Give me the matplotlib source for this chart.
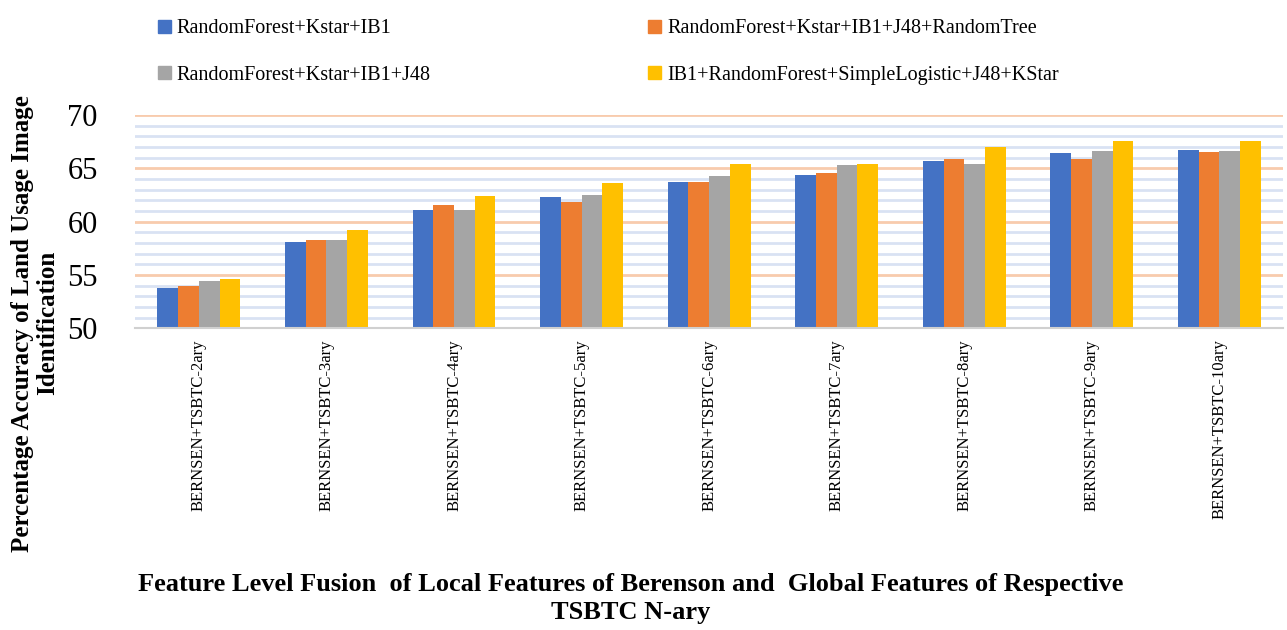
import numpy as np
import matplotlib
matplotlib.use('agg')
from matplotlib import pyplot as plt
from matplotlib.patches import Patch
from matplotlib.ticker import MultipleLocator

plt.rcParams['font.family'] = ['Liberation Serif', 'DejaVu Serif']

categories = ['BERNSEN+TSBTC-%dary' % n for n in range(2, 11)]

series_names = ['RandomForest+Kstar+IB1',
                'RandomForest+Kstar+IB1+J48+RandomTree',
                'RandomForest+Kstar+IB1+J48',
                'IB1+RandomForest+SimpleLogistic+J48+KStar']

rf_kstar_ib1 = [53.8, 58.1, 61.1, 62.3, 63.7, 64.4, 65.7, 66.4, 66.7]
rf_kstar_ib1_j48_rt = [54.0, 58.3, 61.6, 61.8, 63.7, 64.6, 65.9, 65.9, 66.5]
rf_kstar_ib1_j48 = [54.4, 58.3, 61.1, 62.5, 64.3, 65.3, 65.4, 66.6, 66.6]
ib1_rf_sl_j48_kstar = [54.6, 59.2, 62.4, 63.6, 65.4, 65.4, 67.0, 67.6, 67.6]

colors = ['#4472C4', '#ED7D31', '#A5A5A5', '#FFC000']

fig = plt.figure(figsize=(12.87, 6.3), dpi=100)
ax = fig.add_axes([0.105, 0.479, 0.892, 0.3385])

x = np.arange(len(categories))
w = 0.1625
all_series = [rf_kstar_ib1, rf_kstar_ib1_j48_rt, rf_kstar_ib1_j48, ib1_rf_sl_j48_kstar]
for i, vals in enumerate(all_series):
    ax.bar(x + (i - 1.5) * w, np.array(vals) - 50, width=w, bottom=50,
           color=colors[i], zorder=3)

ax.set_xlim(-0.5, len(categories) - 0.5)
ax.set_ylim(50, 70)
ax.yaxis.set_major_locator(MultipleLocator(5))
ax.yaxis.set_minor_locator(MultipleLocator(1))
ax.grid(which='major', axis='y', color='#F8CBAD', lw=2, zorder=1)
ax.grid(which='minor', axis='y', color='#D9E2F3', lw=2, zorder=0)
for s in ['top', 'right', 'left']:
    ax.spines[s].set_visible(False)
ax.spines['bottom'].set_color('#D0D0D0')
ax.spines['bottom'].set_linewidth(1.5)
ax.spines['bottom'].set_zorder(4)
ax.tick_params(axis='y', which='both', length=0, labelsize=22, pad=27)
ax.tick_params(axis='x', length=0, pad=8)
ax.set_xticks(x)
ax.set_xticklabels(categories, rotation=90, fontsize=12, va='top')

# legend: two columns, row-wise order blue/orange then gray/yellow
order = [0, 2, 1, 3]
handles = [Patch(color=colors[i]) for i in order]
labels = [series_names[i] for i in order]
fig.legend(handles, labels, ncol=2, loc='upper left', bbox_to_anchor=(0.109, 0.998),
           frameon=False, fontsize=14.5, handlelength=0.62, handleheight=0.62,
           handletextpad=0.3, columnspacing=10.8, labelspacing=1.35)

fig.text(0.027, 0.487, 'Percentage Accuracy of Land Usage Image\nIdentification',
         rotation=90, ha='center', va='center', fontsize=18, fontweight='bold',
         multialignment='center', linespacing=1.1)
fig.text(0.49, 0.05, 'Feature Level Fusion  of Local Features of Berenson and  Global Features of Respective\nTSBTC N-ary',
         ha='center', va='center', fontsize=19, fontweight='bold',
         multialignment='center', linespacing=1.3)

fig.savefig('out.png', dpi=100)
